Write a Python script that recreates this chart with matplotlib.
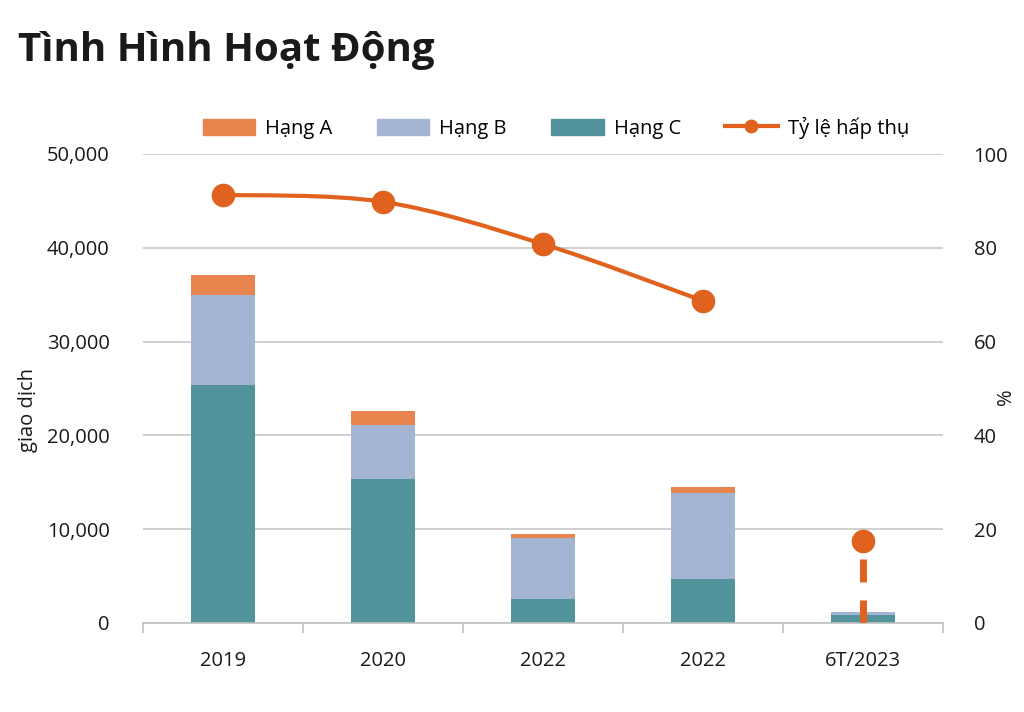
import matplotlib
matplotlib.use("Agg")
import matplotlib.pyplot as plt
from matplotlib.path import Path
from matplotlib.patches import PathPatch, Patch
from matplotlib.lines import Line2D
from matplotlib.ticker import FuncFormatter
import numpy as np

plt.rcParams['font.family'] = ['Open Sans', 'DejaVu Sans']

categories = ["2019", "2020", "2022", "2022", "6T/2023"]
hang_a = [2100, 1490, 430, 640, 30]
hang_b = [9600, 5760, 6500, 9170, 320]
hang_c = [25400, 15350, 2560, 4690, 820]
ty_le = [91.3, 89.8, 80.8, 68.7, 17.5]

col_a = "#E8854F"
col_b = "#A3B5D2"
col_c = "#53939C"
col_line = "#E0621E"
txt = '#1a1a1a'
fs = 14.5

fig = plt.figure(figsize=(10.24, 7.12), dpi=100)
ax = fig.add_axes([143/1024, 1-623/712, 800/1024, 469/712])
ax2 = ax.twinx()

x = np.arange(len(categories))
w = 0.4
c = np.array(hang_c)
b = np.array(hang_b)
a = np.array(hang_a)
ax.bar(x, c, w, color=col_c, zorder=2)
ax.bar(x, b, w, bottom=c, color=col_b, zorder=2)
ax.bar(x, a, w, bottom=c + b, color=col_a, zorder=2)

ax.set_xlim(-0.5, len(categories) - 0.5)
ax.set_ylim(0, 50000)
ax.set_yticks(np.arange(0, 50001, 10000))
ax.yaxis.set_major_formatter(FuncFormatter(lambda v, p: f"{int(v):,}"))
ax.grid(axis='y', color='#C8C8C8', linewidth=1.2, zorder=0)
ax.set_axisbelow(True)
for s in ['top', 'left', 'right']:
    ax.spines[s].set_visible(False)
ax.spines['bottom'].set_color('#C0C0C0')
ax.spines['bottom'].set_linewidth(1.2)
ax.set_xticks(x)
ax.set_xticklabels(categories)
ax.set_xticks(np.arange(-0.5, len(categories), 1.0), minor=True)
ax.tick_params(axis='x', which='major', length=0, pad=20, labelsize=fs, colors=txt)
ax.tick_params(axis='x', which='minor', length=7, color='#C0C0C0', width=1.2)
ax.tick_params(axis='y', length=0, pad=24, labelsize=fs, colors=txt)

ax2.set_ylim(0, 100)
ax2.set_yticks(np.arange(0, 101, 20))
for s in ['top', 'left', 'right', 'bottom']:
    ax2.spines[s].set_visible(False)
ax2.tick_params(axis='y', length=0, pad=22, labelsize=fs, colors=txt)

fig.text(28/1024, 1-410/712, "giao dịch", fontsize=fs, rotation=90, color=txt,
         ha='center', va='center')
fig.text(1006/1024, 1-397/712, "%", fontsize=fs, rotation=90, color=txt,
         ha='center', va='center')

# smooth line through first 4 points (Catmull-Rom -> Bezier)
n = 4
px = x[:n].astype(float)
py = np.array(ty_le[:n])
verts = [(px[0], py[0])]
codes = [Path.MOVETO]
for i in range(n - 1):
    p0 = (px[i-1], py[i-1]) if i > 0 else (px[i], py[i])
    p1 = (px[i], py[i])
    p2 = (px[i+1], py[i+1])
    p3 = (px[i+2], py[i+2]) if i + 2 < n else (px[i+1], py[i+1])
    t = 1/6
    c1 = (p1[0] + (p2[0]-p0[0])*t, p1[1] + (p2[1]-p0[1])*t)
    c2 = (p2[0] - (p3[0]-p1[0])*t, p2[1] - (p3[1]-p1[1])*t)
    verts += [c1, c2, p2]
    codes += [Path.CURVE4]*3
path = Path(verts, codes)
ax2.add_patch(PathPatch(path, facecolor='none', edgecolor=col_line, lw=3, zorder=3))
ax2.plot(px, py, 'o', color=col_line, markersize=16, zorder=4)

# last point with dashed drop line (drawn from the marker downward)
ax2.plot([x[4], x[4]], [ty_le[4], 0], color=col_line, lw=5,
         linestyle=(3.31, (3.31, 2.59)), dash_capstyle='butt', zorder=3)
ax2.plot([x[4]], [ty_le[4]], 'o', color=col_line, markersize=16, zorder=4)

handles = [Patch(color=col_a, label="Hạng A"),
           Patch(color=col_b, label="Hạng B"),
           Patch(color=col_c, label="Hạng C"),
           Line2D([0], [0], color=col_line, lw=3, marker='o', markersize=9, label="Tỷ lệ hấp thụ")]
fig.legend(handles=handles, loc='center', bbox_to_anchor=(556/1024, 1-128/712), ncol=4,
           frameon=False, fontsize=fs, handlelength=2.6, handleheight=0.9,
           columnspacing=2.2, handletextpad=0.5)

fig.text(18/1024, 1-50/712, "Tình Hình Hoạt Động", fontsize=29, fontweight='bold',
         color=txt, va='center', ha='left')

fig.savefig("out.png", dpi=100, facecolor='white')
